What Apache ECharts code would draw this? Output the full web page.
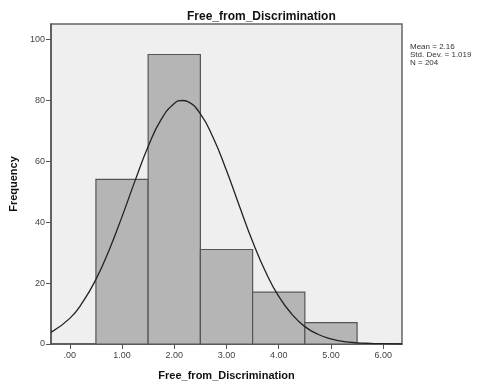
<!DOCTYPE html>
<html>
<head>
    <meta charset="utf-8">
    <title>Free_from_Discrimination</title>
    <script src="https://cdn.jsdelivr.net/npm/echarts@6.0.0/dist/echarts.min.js"></script>
    <style>
        body { margin: 0; background: #fff; }
    </style>
</head>
<body>
<div id="main" style="width: 477px;height:383px;"></div>
<script type="text/javascript">
    // histogram bins (lower edge, upper edge) and counts
    var binStart = [0.5, 1.5, 2.5, 3.5, 4.5];
    var binEnd = [1.5, 2.5, 3.5, 4.5, 5.5];
    var counts = [54, 95, 31, 17, 7];

    // normal curve
    var curveX = [-0.36, 0, 0.25, 0.5, 0.75, 1.0, 1.25, 1.5, 1.75, 2.0, 2.16, 2.25, 2.5, 2.75, 3.0, 3.25, 3.5, 3.75, 4.0, 4.25, 4.5, 4.75, 5.0, 5.25, 5.5, 5.75, 6.0, 6.36];
    var curveY = [3.8, 8.4, 13.8, 21.2, 30.7, 41.8, 53.6, 64.8, 73.7, 78.9, 79.9, 79.6, 75.5, 67.5, 56.9, 45.1, 33.6, 23.6, 15.6, 9.8, 5.7, 3.2, 1.7, 0.8, 0.4, 0.2, 0.1, 0.0];

    var xTicks = [0, 1, 2, 3, 4, 5, 6];
    var yTicks = [0, 20, 40, 60, 80, 100];
    var statLines = ['Mean = 2.16', 'Std. Dev. = 1.019', 'N = 204'];

    var barData = [];
    for (var i = 0; i < counts.length; i++) {
        barData.push([binStart[i], binEnd[i], counts[i]]);
    }
    var lineData = [];
    for (var j = 0; j < curveX.length; j++) {
        lineData.push([curveX[j], curveY[j]]);
    }

    var myChart = echarts.init(document.getElementById('main'));
    myChart.setOption({
        animation: false,
        backgroundColor: '#ffffff',
        title: [{
            text: 'Free_from_Discrimination',
            left: 182,
            top: 6,
            textStyle: { fontFamily: 'Liberation Sans', fontSize: 12, fontWeight: 'bold', color: '#111' }
        }, {
            text: statLines.join('\n'),
            left: 405,
            top: 38,
            textStyle: { fontFamily: 'Liberation Sans', fontSize: 8, fontWeight: 'normal', color: '#333', lineHeight: 8 }
        }],
        grid: {
            left: 51, right: 75, top: 24, bottom: 39,
            containLabel: false,
            outerBoundsMode: 'none',
            show: true,
            backgroundColor: '#efefef',
            borderColor: '#666',
            borderWidth: 1.5
        },
        xAxis: {
            type: 'value',
            min: -0.36,
            max: 6.36,
            name: 'Free_from_Discrimination',
            nameLocation: 'middle',
            nameGap: 26,
            nameTextStyle: { fontFamily: 'Liberation Sans', fontSize: 11, fontWeight: 'bold', color: '#111' },
            splitLine: { show: false },
            axisLine: { onZero: false, lineStyle: { color: '#555', width: 1.5 } },
            axisTick: { customValues: xTicks, length: 5, lineStyle: { color: '#555' } },
            axisLabel: {
                customValues: xTicks,
                fontFamily: 'Liberation Sans', fontSize: 9, color: '#444', margin: 7,
                formatter: function (v) {
                    var s = v.toFixed(2);
                    return s.charAt(0) === '0' ? s.substring(1) : s;
                }
            }
        },
        yAxis: {
            type: 'value',
            min: 0,
            max: 105,
            name: 'Frequency',
            nameLocation: 'middle',
            nameGap: 30,
            nameTextStyle: { fontFamily: 'Liberation Sans', fontSize: 11, fontWeight: 'bold', color: '#111' },
            splitLine: { show: false },
            axisLine: { show: true, onZero: false, lineStyle: { color: '#555', width: 1.5 } },
            axisTick: { show: true, customValues: yTicks, length: 5, lineStyle: { color: '#555' } },
            axisLabel: { customValues: yTicks, fontFamily: 'Liberation Sans', fontSize: 9, color: '#444', margin: 6 }
        },
        series: [{
            type: 'custom',
            data: barData,
            renderItem: function (params, api) {
                var p0 = api.coord([api.value(0), api.value(2)]);
                var p1 = api.coord([api.value(1), 0]);
                return {
                    type: 'rect',
                    shape: { x: p0[0], y: p0[1], width: p1[0] - p0[0], height: p1[1] - p0[1] },
                    style: { fill: '#b5b5b5', stroke: '#555', lineWidth: 1.2 }
                };
            },
            encode: { x: [0, 1], y: 2 }
        }, {
            type: 'line',
            data: lineData,
            smooth: true,
            showSymbol: false,
            lineStyle: { color: '#222', width: 1.3 }
        }]
    });
</script>
</body>
</html>
